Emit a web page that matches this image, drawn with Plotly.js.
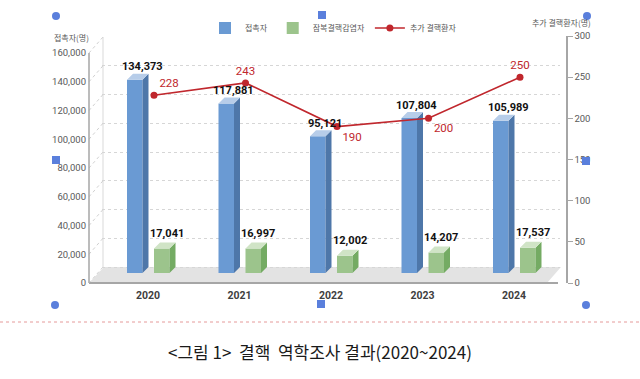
<!DOCTYPE html>
<html><head><meta charset="utf-8">
<script src="https://cdn.plot.ly/plotly-3.0.1.min.js"></script>
<style>html,body{margin:0;padding:0;background:#fff}#chart{width:640px;height:379px}</style>
</head><body><div id="chart"></div>
<script>
// ---- data ----
const years = ['2020', '2021', '2022', '2023', '2024'];
const contacts = [134373, 117881, 95121, 107804, 105989];      // 접촉자
const latent = [17041, 16997, 12002, 14207, 17537];            // 잠복결핵감염자
const patients = [228, 243, 190, 200, 250];                    // 추가 결핵환자
const leftTicks = [0, 20000, 40000, 60000, 80000, 100000, 120000, 140000, 160000];
const rightTicks = [0, 50, 100, 150, 200, 250, 300];
const seriesNames = ['접촉자', '잠복결핵감염자', '추가 결핵환자'];

// ---- layout constants (pixels) ----
const W = 640, H = 379;
const px = x => x / W, py = y => (H - y) / H;
const PLOT_TOP = 36, PLOT_BOT = 283;
const UPP = 160000 / 230;                  // left-axis units per pixel
const SPAN = (PLOT_BOT - PLOT_TOP) * UPP;  // left-axis units over the plot height
const CAT = 91.5;                          // px per category
const XL = 102.25, XR = XL + CAT * 5;
const DEPTH = 16, BAR_LIFT = 10, FACE = 6;
const dx = FACE / CAT, dy = FACE * UPP;
const idx = years.map((_, i) => i);

function faces(vals, leftPx, widthPx) {
  const side = {x: [], y: []}, top = {x: [], y: []};
  vals.forEach((v, i) => {
    const xl = i + leftPx / CAT, xr = i + (leftPx + widthPx) / CAT;
    side.x.push(xr, xr + dx, xr + dx, xr, null);
    side.y.push(0, dy, v + dy, v, null);
    top.x.push(xl, xl + dx, xr + dx, xr, null);
    top.y.push(v, v + dy, v + dy, v, null);
  });
  return {side, top};
}
const BW = 15.5, BLUE_L = -21, GREEN_L = 6;
const fb = faces(contacts, BLUE_L, BW), fg = faces(latent, GREEN_L, BW);
const faceTrace = (f, color) => ({type: 'scatter', x: f.x, y: f.y, yaxis: 'y2', mode: 'lines',
  line: {width: 0}, fill: 'toself', fillcolor: color, showlegend: false, hoverinfo: 'skip'});

const traces = [
  {type: 'scatter', x: [0], y: [0], mode: 'markers', marker: {opacity: 0}, showlegend: false, hoverinfo: 'skip'},
  {type: 'scatter', x: [0], y: [0], yaxis: 'y3', mode: 'markers', marker: {opacity: 0}, showlegend: false, hoverinfo: 'skip'},
  {type: 'bar', name: seriesNames[0], x: idx.map(i => i + (BLUE_L + BW / 2) / CAT), y: contacts, width: BW / CAT,
   yaxis: 'y2', marker: {color: '#6A9AD3', line: {width: 0}}, hoverinfo: 'y'},
  faceTrace(fb.side, '#4E77A9'), faceTrace(fb.top, '#B7CDE9'),
  {type: 'bar', name: seriesNames[1], x: idx.map(i => i + (GREEN_L + BW / 2) / CAT), y: latent, width: BW / CAT,
   yaxis: 'y2', marker: {color: '#9CC48C', line: {width: 0}}, hoverinfo: 'y'},
  faceTrace(fg.side, '#74AB63'), faceTrace(fg.top, '#D0E4C6'),
  {type: 'scatter', name: seriesNames[2], x: idx.map(i => i + 6 / CAT), y: patients, yaxis: 'y4',
   mode: 'lines+markers+text', text: patients.map(String),
   textposition: ['top right', 'top center', 'bottom right', 'bottom right', 'top center'],
   textfont: {family: 'Liberation Sans Narrow, Roboto, sans-serif', size: 11.5, color: '#C0272D'},
   line: {color: '#C0272D', width: 1.6}, marker: {color: '#C0272D', size: 7}}
];

const tickFont = {family: 'Liberation Sans Narrow, Roboto, sans-serif', size: 9.5, color: '#595959'};
const lblFont = {family: 'Liberation Sans Narrow, Roboto, sans-serif', size: 11, color: '#111', weight: 'bold'};

const annotations = [];
contacts.forEach((v, i) => annotations.push({x: i - 6 / CAT, y: v, xref: 'x', yref: 'y2', yshift: 13, yanchor: 'middle',
  text: v.toLocaleString('en-US'), showarrow: false, font: lblFont}));
latent.forEach((v, i) => annotations.push({x: i + 18.5 / CAT, y: v, xref: 'x', yref: 'y2', yshift: 15, yanchor: 'middle',
  text: v.toLocaleString('en-US'), showarrow: false, font: lblFont}));
annotations.push({x: px(71), y: py(37), xref: 'paper', yref: 'paper', xanchor: 'center', yanchor: 'middle',
  text: '접촉자(명)', showarrow: false, font: {family: 'Noto Sans CJK KR', size: 8, color: '#595959'}});
annotations.push({x: px(561), y: py(23), xref: 'paper', yref: 'paper', xanchor: 'center', yanchor: 'middle',
  text: '추가 결핵환자(명)', showarrow: false, font: {family: 'Noto Sans CJK KR', size: 8, color: '#595959'}});
annotations.push({x: 0.5, y: py(351), xref: 'paper', yref: 'paper', xanchor: 'center', yanchor: 'middle',
  text: '&lt;그림 1&gt;&#160; 결핵&#160; 역학조사 결과(2020~2024)',
  showarrow: false, font: {family: 'Noto Sans CJK KR', size: 17, color: '#1a1a1a'}});

const shapes = [
  {type: 'path', xref: 'paper', yref: 'paper', layer: 'below',
   path: `M ${px(89)},${py(283)} L ${px(104)},${py(267)} L ${px(561)},${py(267)} L ${px(547)},${py(283)} Z`,
   fillcolor: '#E3E3E3', line: {width: 0}},
  {type: 'line', xref: 'paper', yref: 'paper', layer: 'below', x0: px(89), x1: px(558), y0: py(283), y1: py(283),
   line: {color: '#A6A6A6', width: 2}},
  {type: 'line', xref: 'paper', yref: 'paper', layer: 'below', x0: px(103), x1: px(103), y0: py(37), y1: py(267),
   line: {color: '#D9D9D9', width: 1}},
  {type: 'line', xref: 'paper', yref: 'y3', x0: px(89), x1: px(89), y0: 0, y1: leftTicks[leftTicks.length - 1],
   line: {color: '#A6A6A6', width: 1.5}},
  {type: 'line', xref: 'paper', yref: 'paper', x0: 0, x1: 1, y0: py(322), y1: py(322),
   line: {color: '#E59A9A', width: 1, dash: 'dot'}}
];
leftTicks.forEach(v => shapes.push({type: 'line', xref: 'paper', yref: 'y3', layer: 'below',
  x0: px(89), x1: px(103), y0: v, y1: v + DEPTH * UPP, line: {color: '#D0D0D0', width: 1, dash: 'dot'}}));
[[56, 16], [587, 16], [55, 305], [586, 305]].forEach(([cx, cy]) => shapes.push({type: 'circle', xref: 'paper', yref: 'paper',
  x0: px(cx - 4), x1: px(cx + 4), y0: py(cy + 4), y1: py(cy - 4), fillcolor: '#5A7FDC', line: {width: 0}}));
[[322, 15], [56, 160], [586, 161], [321, 304]].forEach(([cx, cy]) => shapes.push({type: 'rect', xref: 'paper', yref: 'paper',
  x0: px(cx - 4), x1: px(cx + 4), y0: py(cy + 4), y1: py(cy - 4), fillcolor: '#5A7FDC', line: {width: 0}}));

const dom = [py(PLOT_BOT), py(PLOT_TOP)];
const layout = {
  width: W, height: H, margin: {l: 0, r: 0, t: 0, b: 0},
  paper_bgcolor: '#fff', plot_bgcolor: 'rgba(0,0,0,0)',
  barmode: 'overlay', showlegend: true,
  legend: {orientation: 'h', x: px(205), xanchor: 'left', y: py(28), yanchor: 'middle', itemwidth: 30,
    font: {family: 'Noto Sans CJK KR', size: 8, color: '#595959'}, bgcolor: 'rgba(0,0,0,0)', traceorder: 'normal'},
  xaxis: {domain: [px(XL), px(XR)], range: [-0.5, 4.5], tickvals: idx, ticktext: years, showgrid: false,
    zeroline: false, showline: false, ticks: '', ticklabelstandoff: 4,
    tickfont: {family: 'Roboto, sans-serif', size: 10.5, color: '#404040', weight: 'bold'}},
  yaxis: {domain: dom, range: [-DEPTH * UPP, SPAN - DEPTH * UPP], tickvals: leftTicks, showticklabels: false,
    showgrid: true, gridcolor: '#D6D6D6', griddash: 'dot', gridwidth: 1, zeroline: false, showline: false, ticks: ''},
  yaxis2: {overlaying: 'y', range: [-BAR_LIFT * UPP, SPAN - BAR_LIFT * UPP], visible: false},
  yaxis3: {overlaying: 'y', anchor: 'free', position: px(89), side: 'left', range: [0, SPAN], tickvals: leftTicks,
    tickformat: ',', showgrid: false, zeroline: false, showline: false, ticks: '', ticklabelstandoff: 3, tickfont: tickFont},
  yaxis4: {overlaying: 'y', anchor: 'free', position: px(566), side: 'right', range: [0, 300], tickvals: rightTicks,
    showgrid: false, zeroline: false, showline: true, linecolor: '#A6A6A6', linewidth: 1.5,
    ticks: 'outside', ticklen: 5, tickcolor: '#A6A6A6', tickfont: tickFont},
  annotations, shapes
};
Plotly.newPlot('chart', traces, layout, {displayModeBar: false, staticPlot: true});
</script></body></html>
